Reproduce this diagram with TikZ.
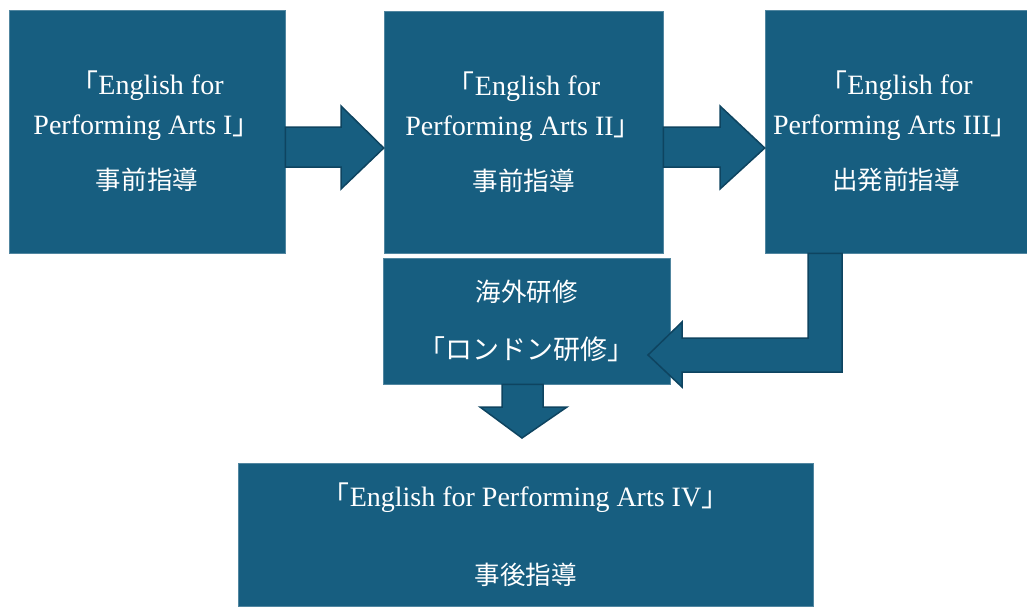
\documentclass[tikz,border=0pt]{standalone}
\usepackage{fontspec}
\setmainfont{Liberation Serif}
\newfontfamily\jp{Noto Sans CJK JP}
\definecolor{boxblue}{HTML}{175E80}
\definecolor{arrowedge}{HTML}{0E4460}
\tikzset{
  stage/.style={fill=boxblue, draw=boxblue!75!white, line width=0.5pt, text=white,
    align=center, inner sep=0pt, font=\fontsize{28}{40}\selectfont},
  blockarrow/.style={fill=boxblue, draw=arrowedge, line width=1.5pt, line join=miter}
}
\newcommand{\lb}{{\jp 「}}
\newcommand{\rb}{{\jp 」}}
\newcommand{\jt}{\jp\fontsize{25.5}{40}\selectfont}
\begin{document}
\begin{tikzpicture}[x=1pt,y=-1pt]
\useasboundingbox (0,0) rectangle (1027,606);
\node[stage, minimum width=276pt, minimum height=243pt] (b1) at (147,131.5)
  {\lb English for\\Performing Arts I\rb\\[15pt]{\jt 事前指導}};
\node[stage, minimum width=279pt, minimum height=242pt] (b2) at (523.5,132)
  {\lb English for\\Performing Arts II\rb\\[15pt]{\jt 事前指導}};
\node[stage, minimum width=262pt, minimum height=243pt] (b3) at (896,131.5)
  {\lb English for\\Performing Arts III\rb\\[15pt]{\jt 出発前指導}};
\node[stage, minimum width=287pt, minimum height=126pt] (b4) at (526.5,321)
  {{\jt 海外研修}\\[18pt]{\jp\fontsize{27}{40}\selectfont 「ロンドン研修」}};
\node[stage, minimum width=575pt, minimum height=143pt] (b5) at (525.5,534.5)
  {\lb English for Performing Arts IV\rb\\[38pt]{\jt 事後指導}};
% arrows
\draw[blockarrow] (b1.east |- 0,127) -- (341,127) -- (341,106) -- (b2.west |- 0,148)
  -- (341,189) -- (341,167) -- (b1.east |- 0,167) -- cycle;
\draw[blockarrow] (b2.east |- 0,127) -- (720,127) -- (720,106) -- (b3.west |- 0,148)
  -- (720,189) -- (720,167) -- (b2.east |- 0,167) -- cycle;
\draw[blockarrow] (808,0 |- b3.south) -- (842,0 |- b3.south) -- (842,372) -- (682,372)
  -- (682,387) -- (648,355) -- (682,322) -- (682,338) -- (808,338) -- cycle;
\draw[blockarrow] (502,0 |- b4.south) -- (543,0 |- b4.south) -- (543,407) -- (567,407)
  -- (522,438) -- (480,407) -- (502,407) -- cycle;
\end{tikzpicture}
\end{document}
